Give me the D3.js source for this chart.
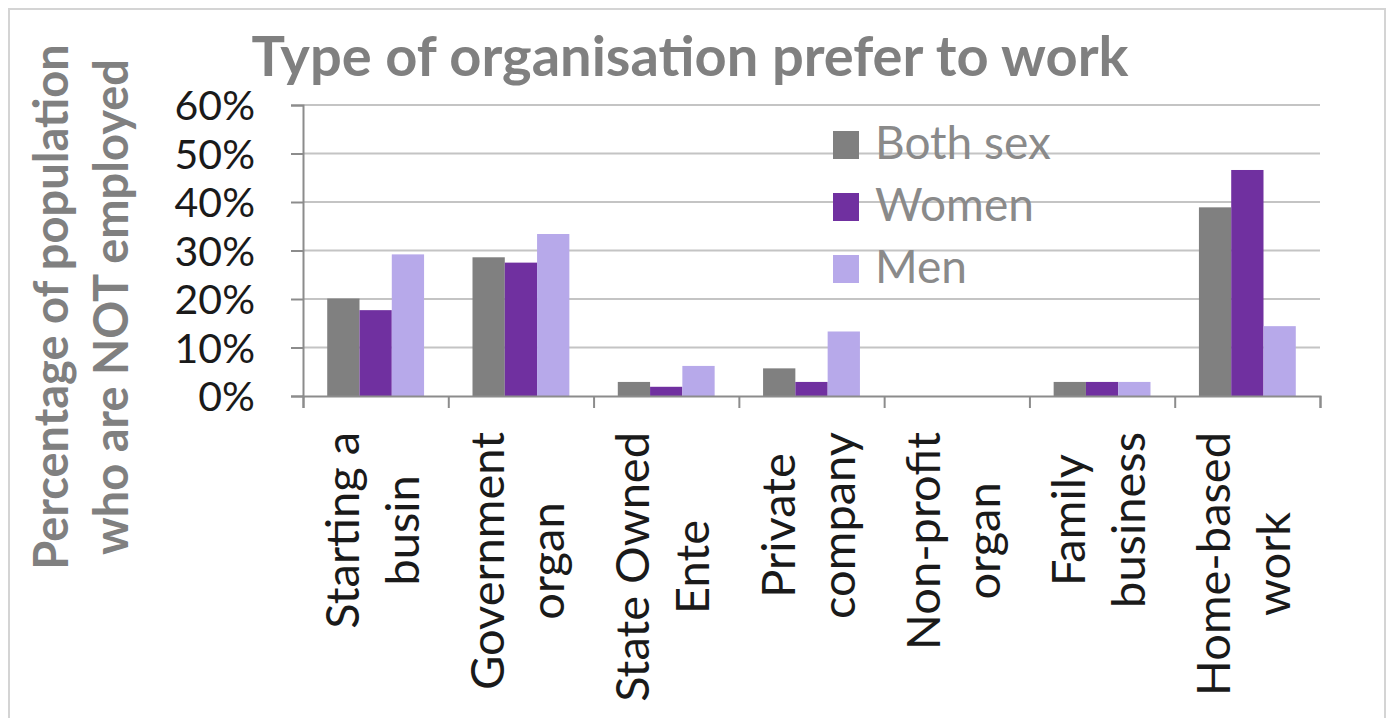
<!DOCTYPE html>
<html>
<head>
<meta charset="utf-8">
<title>Type of organisation prefer to work</title>
<script src="https://d3js.org/d3.v7.min.js"></script>
<style>
	body { margin: 0; background: #fff; }
	text { font-family: Lato, "Noto Sans", sans-serif; }
</style>
</head>
<body>
<svg id="chart" width="1389" height="718"></svg>
<script>
	// data (percent)
	var categories = [
		["Starting a", "busin"],
		["Government", "organ"],
		["State Owned", "Ente"],
		["Private", "company"],
		["Non-profit", "organ"],
		["Family", "business"],
		["Home-based", "work"]
	];
	var seriesNames = ["Both sex", "Women", "Men"];
	var bothSex = [20.1, 28.6, 2.9, 5.7, 0, 2.9, 38.9];
	var women = [17.7, 27.5, 1.9, 2.9, 0, 2.9, 46.6];
	var men = [29.2, 33.4, 6.2, 13.3, 0, 2.9, 14.4];
	var yTicks = [0, 10, 20, 30, 40, 50, 60];
	var colors = ["#808080", "#7030a0", "#b7a9ea"];

	var series = [bothSex, women, men];

	var svg = d3.select("#chart");
	var plotLeft = 303, plotRight = 1320, plotTop = 105, plotBottom = 396;

	// outer frame
	svg.append("rect")
		.attr("x", 9).attr("y", 9)
		.attr("width", 1376).attr("height", 730)
		.attr("fill", "none")
		.attr("stroke", "#d4d4d4")
		.attr("stroke-width", 2);

	var x = d3.scaleBand().domain(d3.range(categories.length)).range([plotLeft, plotRight]).padding(0);
	// excel style gap width 150%: bar = band / 4.5
	var barW = x.bandwidth() / 4.5;
	var x1 = d3.scaleBand().domain(d3.range(series.length))
		.range([barW * 0.75, barW * 3.75]).padding(0);
	var y = d3.scaleLinear().domain([0, 60]).range([plotBottom, plotTop]);

	// gridlines
	svg.append("g").selectAll("line")
		.data(yTicks.filter(function (d) { return d > 0; }))
		.enter().append("line")
		.attr("x1", plotLeft).attr("x2", plotRight)
		.attr("y1", function (d) { return y(d); })
		.attr("y2", function (d) { return y(d); })
		.attr("stroke", "#c4c4c4")
		.attr("stroke-width", 2);

	// bars
	var groups = svg.append("g").selectAll("g")
		.data(series)
		.enter().append("g")
		.attr("fill", function (d, i) { return colors[i]; });

	groups.each(function (vals, s) {
		d3.select(this).selectAll("rect")
			.data(vals)
			.enter().append("rect")
			.attr("x", function (d, i) { return x(i) + x1(s); })
			.attr("width", x1.bandwidth())
			.attr("y", function (d) { return y(d); })
			.attr("height", function (d) { return plotBottom - y(d); });
	});

	// y axis
	var yAxis = svg.append("g")
		.attr("transform", "translate(" + plotLeft + ",0)")
		.call(d3.axisLeft(y).tickValues(yTicks).tickSize(12).tickPadding(36)
			.tickFormat(function (d) { return d + "%"; }));
	yAxis.select(".domain").attr("stroke", "#8c8c8c").attr("stroke-width", 2);
	yAxis.selectAll(".tick line").attr("stroke", "#8c8c8c").attr("stroke-width", 2);
	yAxis.selectAll(".tick text")
		.attr("font-family", "Lato, sans-serif")
		.attr("font-size", 41)
		.attr("fill", "#1a1a1a")
		.attr("dy", "0.36em");

	// x axis (ticks between categories)
	var xb = d3.scaleLinear().domain([0, categories.length]).range([plotLeft, plotRight]);
	var xAxis = svg.append("g")
		.attr("transform", "translate(0," + plotBottom + ")")
		.call(d3.axisBottom(xb).tickValues(d3.range(categories.length + 1)).tickSize(12).tickFormat(""));
	xAxis.select(".domain").attr("stroke", "#8c8c8c").attr("stroke-width", 2);
	xAxis.selectAll(".tick line").attr("stroke", "#8c8c8c").attr("stroke-width", 2);

	// category labels, rotated, lines centred on each other, top aligned
	var labelTop = 432;
	categories.forEach(function (lines, i) {
		var c = x(i) + x.bandwidth() / 2;
		var g = svg.append("g");
		var texts = lines.map(function (t, k) {
			return g.append("text")
				.attr("font-size", 47)
				.attr("fill", "#1a1a1a")
				.attr("text-anchor", "middle")
				.text(t);
		});
		var maxLen = d3.max(texts, function (t) { return t.node().getComputedTextLength(); });
		var yc = labelTop + maxLen / 2;
		texts.forEach(function (t, k) {
			t.attr("transform", "translate(" + (c - 17 + k * 60) + "," + yc + ") rotate(-90)");
		});
	});

	// legend
	var legend = svg.append("g").selectAll("g")
		.data(seriesNames)
		.enter().append("g")
		.attr("transform", function (d, i) { return "translate(833," + (131 + i * 62) + ")"; });
	legend.append("rect")
		.attr("width", 26).attr("height", 28)
		.attr("fill", function (d, i) { return colors[i]; });
	legend.append("text")
		.attr("x", 42).attr("y", 28)
		.attr("font-size", 46)
		.attr("fill", "#8a8a8a")
		.text(function (d) { return d; });

	// title
	var title = svg.append("text")
		.attr("x", 690).attr("y", 76)
		.attr("text-anchor", "middle")
		.attr("font-size", 56)
		.attr("font-weight", "bold")
		.attr("fill", "#808080")
		.text("Type of organisation prefer to work");
	var tw = title.node().getComputedTextLength();
	if (tw > 895) title.attr("textLength", 895).attr("lengthAdjust", "spacingAndGlyphs");

	// y axis title
	var yTitle = ["Percentage of population", "who are NOT employed"];
	yTitle.forEach(function (t, k) {
		var el = svg.append("text")
			.attr("transform", "translate(" + (68 + k * 60) + ",307) rotate(-90)")
			.attr("text-anchor", "middle")
			.attr("font-size", 47)
			.attr("font-weight", "bold")
			.attr("fill", "#808080")
			.text(t);
		var target = k == 0 ? 535 : 498;
		if (el.node().getComputedTextLength() > target) el.attr("textLength", target).attr("lengthAdjust", "spacingAndGlyphs");
	});
</script>
</body>
</html>
